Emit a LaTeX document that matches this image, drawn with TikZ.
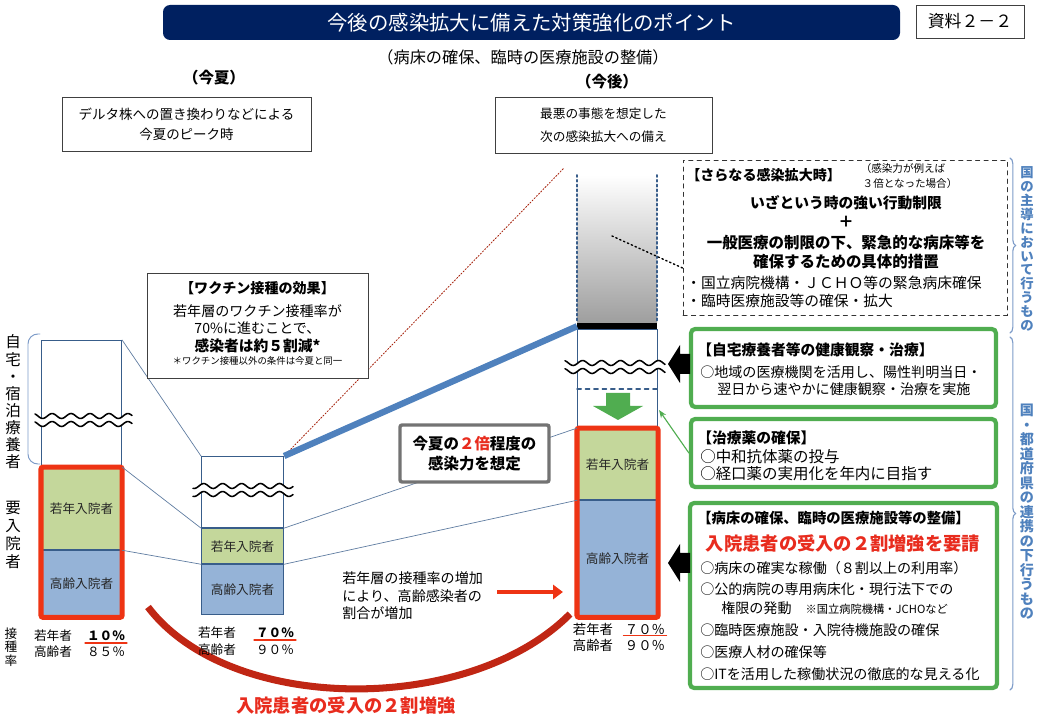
\documentclass[tikz,border=0pt]{standalone}
\usepackage{fontspec}
\setmainfont{Noto Sans CJK JP}
\usetikzlibrary{arrows.meta,positioning,decorations.pathreplacing}
\definecolor{navy}{RGB}{0,32,96}
\definecolor{bline}{RGB}{56,93,138}
\definecolor{yfill}{RGB}{196,215,155}
\definecolor{ofill}{RGB}{149,179,215}
\definecolor{rbox}{RGB}{238,52,20}
\definecolor{gline}{RGB}{80,173,80}
\definecolor{sblue}{RGB}{79,129,189}
\definecolor{arcred}{RGB}{192,38,20}
\definecolor{lred}{RGB}{232,44,30}
\definecolor{brc}{RGB}{125,155,200}
\newcommand{\px}{0.025cm}
\newcommand{\fs}[2]{\fontsize{#1}{#2}\selectfont}
\newcommand{\wavebreak}[3]{%
  \fill[white] plot[domain=#1:#2,samples=60] (\x,{#3-4+2.5*sin(19*\x)})
    -- plot[domain=#2:#1,samples=60] (\x,{#3+4+2.5*sin(19*\x)}) -- cycle;
  \draw[brk] plot[domain=#1:#2,samples=60] (\x,{#3-4+2.5*sin(19*\x)});
  \draw[brk] plot[domain=#1:#2,samples=60] (\x,{#3+4+2.5*sin(19*\x)});}

\begin{document}
\begin{tikzpicture}[x=0.025cm,y=-0.025cm,>={Stealth[length=2mm]},line cap=round,
  seg/.style={draw=bline,line width=0.8pt,inner sep=0pt,font=\fs{9}{11},text=black!85},
  box/.style={draw=black!75,line width=0.7pt,fill=white,inner sep=0pt},
  gbox/.style={draw=gline,line width=3pt,rounded corners=3pt,fill=white,inner sep=0pt},
  redbox/.style={draw=rbox,line width=3.6pt,rounded corners=1.5pt},
  ln/.style={anchor=west,inner sep=0pt,font=\fs{10}{12}},
  hd/.style={anchor=west,inner sep=0pt,font=\bfseries\fs{10.5}{12}},
  tate/.style={align=center,inner sep=0pt},
  link/.style={draw=bline!80,line width=0.5pt},
  rate/.style={inner sep=1pt,font=\fs{9}{11}},
  brk/.style={line width=1.1pt}]
\useasboundingbox (0,0) rectangle (1040,720);

% header
\node[fill=navy,rounded corners=5pt,minimum width=737*\px,minimum height=35*\px,
  text=white,font=\fs{14.5}{16}] (title) at (531.5,22.5) {今後の感染拡大に備えた対策強化のポイント};
\node[box,minimum width=108*\px,minimum height=33*\px,font=\fs{12}{14}] (doc) at (970,21.5) {資料２－２};
\node[font=\fs{11.5}{13}] (sub) at (523,57) {（病床の確保、臨時の医療施設の整備）};
\node[font=\bfseries\fs{11}{13}] (now) at (214,78) {（今夏）};
\node[font=\bfseries\fs{11}{13}] (next) at (607,82) {（今後）};
\node[box,minimum width=249*\px,minimum height=54*\px,align=center,font=\fs{9.6}{14.2}] (peak) at (186.5,124) {デルタ株への置き換わりなどによる\\今夏のピーク時};
\node[box,minimum width=217*\px,minimum height=56*\px,align=center,font=\fs{9}{16.4}] (worst) at (603.5,125) {最悪の事態を想定した\\次の感染拡大への備え};

% left labels
\node[tate,font=\fs{11}{12.2}] (homelbl) at (13,402) {自\\宅\\・\\宿\\泊\\療\\養\\者};
\node[tate,font=\fs{11}{12.6}] (inptlbl) at (13,535) {要\\入\\院\\者};
\node[tate,font=\fs{9}{9.6}] (ratelbl) at (11,647) {接\\種\\率};
\draw[brc,line width=0.7pt,rounded corners=7pt] (40,334) -- (28,334) -- (28,464) -- (40,464);

% big arc
\coordinate (a0) at (148,607);
\coordinate (a1) at (570,614);
\draw[arcred,line width=5pt,line cap=butt] (a0) .. controls (230,715) and (470,715) .. (a1);
\node[text=lred,font=\bfseries\fs{13}{15}] (gain) at (346,706) {入院患者の受入の２割増強};

% summer peak
\node[seg,fill=white,minimum width=80*\px,minimum height=126*\px,anchor=north west] (w1) at (41,340) {};
\node[seg,fill=yfill,minimum width=80*\px,minimum height=82*\px,below=0pt of w1] (y1) {若年入院者};
\node[seg,fill=ofill,minimum width=80*\px,minimum height=66*\px,below=0pt of y1] (o1) {高齢入院者};
\wavebreak{35}{132}{420}
\draw[redbox] (y1.north west) rectangle (o1.south east);
\node[rate] (r1a) at (53,636) {若年者};
\node[rate,font=\bfseries\fs{9}{11}] (r1b) at (106,636) {１０％};
\node[rate] (r1c) at (53,652) {高齢者};
\node[rate] (r1d) at (106,652) {８５％};
\draw[rbox,line width=1.6pt] (r1b.south west) -- (r1b.south east);

% after vaccination
\node[seg,fill=white,minimum width=82*\px,minimum height=71*\px,anchor=north west] (w2) at (201,456) {};
\node[seg,fill=yfill,minimum width=82*\px,minimum height=35*\px,below=0pt of w2] (y2) {若年入院者};
\node[seg,fill=ofill,minimum width=82*\px,minimum height=50*\px,below=0pt of y2] (o2) {高齢入院者};
\wavebreak{193}{293}{490}
\node[rate] (r2a) at (217,633) {若年者};
\node[rate,font=\bfseries\fs{9}{11}] (r2b) at (275,633) {７０％};
\node[rate] (r2c) at (217,650) {高齢者};
\node[rate] (r2d) at (275,650) {９０％};
\draw[rbox,line width=1.6pt] (r2b.south west) -- (r2b.south east);

\draw[link] (w1.north east) -- (w2.north west) (y1.north east) -- (y2.north west)
  (o1.north east) -- (o2.north west);

% vaccine note
\coordinate (rd) at (564,168);
\draw[rbox!70!black,dash pattern=on 1pt off 1.2pt,line width=0.6pt] (w2.north east) -- (rd);
\node[box,minimum width=221*\px,minimum height=105*\px] (vac) at (257.5,325.5) {};
\node[font=\bfseries\fs{10}{12}] (vac1) at (257.5,288) {【ワクチン接種の効果】};
\node[font=\fs{10}{12}] (vac2) at (257.5,311) {若年層のワクチン接種率が};
\node[font=\fs{10}{12}] (vac3) at (257.5,328) {70\%に進むことで、};
\node[font=\bfseries\fs{10.5}{12}] (vac4) at (257.5,346) {感染者は約５割減*};
\node[font=\fs{6.7}{8}] (vac5) at (257.5,361) {＊ワクチン接種以外の条件は今夏と同一};

% next wave
\shade[top color=white,bottom color=black!38] (577,175) rectangle (657,323);
\draw[bline,line width=1.4pt,dotted] (577,175) -- (577,323) (657,175) -- (657,323);
\node[fill=black,minimum width=80*\px,minimum height=6*\px,inner sep=0pt,anchor=north west] (cap) at (577,323) {};
\node[seg,minimum width=80*\px,minimum height=98*\px,anchor=north west] (w3) at (577,329) {};
\node[seg,fill=yfill,minimum width=80*\px,minimum height=71*\px,below=0pt of w3] (y3) {若年入院者};
\node[seg,fill=ofill,minimum width=80*\px,minimum height=116*\px,below=0pt of y3] (o3) {高齢入院者};
\draw[bline,dashed,line width=1pt] (577,389) -- (657,389);
\wavebreak{565}{665}{367}
\fill[gline] (606,393) -- (630,393) -- (630,406) -- (643,406) -- (618,420) -- (593,406) -- (606,406) -- cycle;
\draw[redbox] (y3.north west) rectangle (o3.south east);
\node[rate,font=\fs{9.5}{11}] (r3a) at (593,629) {若年者};
\node[rate,font=\fs{9.5}{11}] (r3b) at (645,629) {７０％};
\node[rate,font=\fs{9.5}{11}] (r3c) at (593,645) {高齢者};
\node[rate,font=\fs{9.5}{11}] (r3d) at (645,645) {９０％};
\draw[rbox,line width=0.6pt] (r3b.south west) -- (r3b.south east);

\draw[link] (y2.north east) -- (y3.north west) (o2.north east) -- (o3.north west);
\draw[sblue,line width=4.5pt,line cap=butt] (w2.north east) -- (cap.west);

% twice the infectivity
\node[draw=black!55,line width=2.4pt,fill=white,rounded corners=1.5pt,minimum width=149*\px,
  minimum height=57*\px,align=center,font=\bfseries\fs{11}{14.5}] (twice) at (474.5,453.5)
  {今夏の\textcolor{lred}{２倍}程度の\\感染力を想定};
\node[anchor=west,align=left,inner sep=0pt,font=\fs{10}{12.4}] (shift) at (342,596)
  {若年層の接種率の増加\\により、高齢感染者の\\割合が増加};
\coordinate (s0) at (497,592);
\draw[rbox,line width=2.5pt,line cap=butt,-{Triangle[length=7pt,width=10pt]}] (s0) -- ([xshift=-10pt]o3.west |- s0);

% further spread
\node[draw=black!80,dashed,line width=0.6pt,minimum width=324*\px,minimum height=155*\px,inner sep=0pt] (surge) at (845,237.5) {};
\node[hd,font=\bfseries\fs{10}{12}] (s1) at (686,175) {【さらなる感染拡大時】};
\node[font=\fs{7.5}{9}] (s2) at (903,168) {（感染力が例えば};
\node[font=\fs{7.5}{9}] (s3) at (910,183) {３倍となった場合）};
\node[font=\bfseries\fs{10.5}{12}] (s4) at (846,203) {いざという時の強い行動制限};
\node[font=\bfseries\fs{11}{12}] (s5) at (846,222) {＋};
\node[font=\bfseries\fs{11}{12}] (s6) at (846,243) {一般医療の制限の下、緊急的な病床等を};
\node[font=\bfseries\fs{11}{12}] (s7) at (846,262) {確保するための具体的措置};
\node[ln,font=\fs{10.5}{12}] (s8) at (686,283) {・国立病院機構・ＪＣＨＯ等の緊急病床確保};
\node[ln,font=\fs{10.5}{12}] (s9) at (686,301) {・臨時医療施設等の確保・拡大};
\coordinate (gd) at (612,236);
\draw[dotted,line width=1pt] (gd) -- ([yshift=-21.7pt]surge.west);

% measures
\node[gbox,minimum width=305*\px,minimum height=78*\px] (care) at (843.5,368) {};
\node[hd] (c1) at (697,350) {【自宅療養者等の健康観察・治療】};
\node[ln] (c2) at (700,372) {○地域の医療機関を活用し、陽性判明当日・};
\node[ln] (c3) at (717,389) {翌日から速やかに健康観察・治療を実施};
\node[gbox,minimum width=305*\px,minimum height=68*\px] (drug) at (843.5,453) {};
\node[hd] (d1) at (697,438) {【治療薬の確保】};
\node[ln,font=\fs{11}{12}] (d2) at (700,457) {○中和抗体薬の投与};
\node[ln,font=\fs{11}{12}] (d3) at (700,474) {○経口薬の実用化を年内に目指す};
\node[gbox,minimum width=307*\px,minimum height=185*\px] (beds) at (843.5,595.5) {};
\node[hd,font=\bfseries\fs{10.2}{12}] (b1) at (697,518) {【病床の確保、臨時の医療施設等の整備】};
\node[text=lred,font=\bfseries\fs{13}{15}] (b2) at (843,544) {入院患者の受入の２割増強を要請};
\node[ln] (b3) at (700,568) {○病床の確実な稼働（８割以上の利用率）};
\node[ln] (b4) at (700,589) {○公的病院の専用病床化・現行法下での};
\node[ln] (b5) at (721,608) {権限の発動\quad{\fs{8}{10}※国立病院機構・JCHOなど}};
\node[ln] (b6) at (700,630) {○臨時医療施設・入院待機施設の確保};
\node[ln] (b7) at (700,652) {○医療人材の確保等};
\node[ln] (b8) at (700,674) {○ITを活用した稼働状況の徹底的な見える化};

\foreach \ay in {364,563}
  \fill (668,\ay) -- ++(12,-19) -- ++(0,9) -- ++(10,0) -- ++(0,20) -- ++(-10,0) -- ++(0,9) -- cycle;
\coordinate (gt) at (659,410);
\draw[gline,line width=0.8pt,->] (drug.west) -- (gt);

% right side
\draw[brc,line width=0.8pt,decorate,decoration={brace,amplitude=4pt}] (1010,158) -- (1010,333);
\draw[brc,line width=0.8pt,decorate,decoration={brace,amplitude=4pt}] (1010,337) -- (1010,690);
\node[tate,text=sblue,font=\bfseries\fs{9.5}{9.9}] (natl) at (1027,249) {国\\の\\主\\導\\に\\お\\い\\て\\行\\う\\も\\の};
\node[tate,text=sblue,font=\bfseries\fs{10}{10.3}] (pref) at (1027,512) {国\\・\\都\\道\\府\\県\\の\\連\\携\\の\\下\\行\\う\\も\\の};
\end{tikzpicture}
\end{document}
